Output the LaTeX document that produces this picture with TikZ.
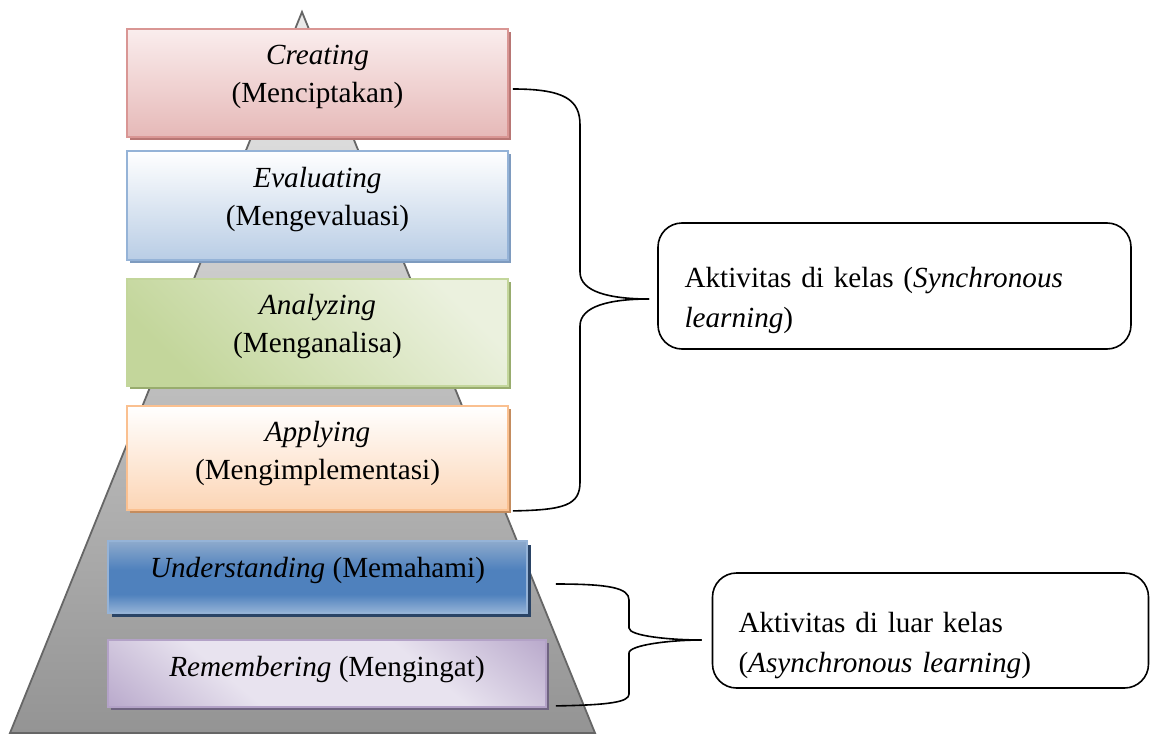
\documentclass[tikz,border=0pt]{standalone}
\usepackage{fontspec}
\setmainfont{Liberation Serif}
\usetikzlibrary{calc,shadows}

\definecolor{pinkEdge}{HTML}{D99694}
\definecolor{pinkLow}{HTML}{E6B9B8}
\definecolor{pinkHigh}{HTML}{FAEDED}
\definecolor{pinkShade}{HTML}{B87674}
\definecolor{blueEdge}{HTML}{95B3D7}
\definecolor{blueLow}{HTML}{B9CDE5}
\definecolor{blueShade}{HTML}{7E9BBF}
\definecolor{greenEdge}{HTML}{C3D69B}
\definecolor{greenLow}{HTML}{EBF1DE}
\definecolor{greenShade}{HTML}{98AC6E}
\definecolor{orangeEdge}{HTML}{FAC090}
\definecolor{orangeLow}{HTML}{FCD5B5}
\definecolor{orangeShade}{HTML}{C48C5E}
\definecolor{navyMid}{HTML}{4F81BD}
\definecolor{navyShade}{HTML}{2A4466}
\definecolor{lilacEdge}{HTML}{B3A2C7}
\definecolor{lilacLow}{HTML}{E8E3EF}
\definecolor{lilacShade}{HTML}{6F6480}

% shadings for the two lower levels
\pgfdeclareverticalshading{navyband}{100bp}{color(0bp)=(blueEdge); color(25bp)=(blueEdge);
  color(38bp)=(navyMid); color(55bp)=(navyMid); color(75bp)=(blueEdge!95!black); color(100bp)=(blueEdge)}
\pgfdeclareverticalshading{lilacband}{100bp}{color(0bp)=(lilacEdge); color(12bp)=(lilacEdge);
  color(36bp)=(lilacLow); color(64bp)=(lilacLow); color(88bp)=(lilacEdge); color(100bp)=(lilacEdge)}

\tikzset{
  level/.style={draw, line width=0.9pt, align=center, inner sep=0pt,
    font=\fontsize{14.6}{19}\selectfont},
  callout/.style={draw, line width=0.8pt, rounded corners=12pt, align=left,
    inner xsep=13pt, inner ysep=0pt, font=\fontsize{14.6}{20}\selectfont},
  brace/.style={line width=0.8pt},
}

\begin{document}
\begin{tikzpicture}[x=0.5pt,y=-0.5pt]
  % Define the frame of the picture
  \useasboundingbox (0,0) rectangle (1150,733);

  % Draw the pyramid behind the levels
  \coordinate (apex) at (302,12);
  \coordinate (baseL) at (10,733);
  \coordinate (baseR) at (595,733);
  \draw[draw=black!60, line width=0.9pt, top color=black!8, bottom color=black!42]
    (apex) -- (baseR) -- (baseL) -- cycle;

  % Draw the levels, top to bottom
  \node[level, minimum width=190.5pt, minimum height=54pt, text depth=9pt,
    draw=pinkEdge, top color=pinkHigh, bottom color=pinkLow,
    drop shadow={shadow xshift=1.5pt, shadow yshift=-1.5pt, fill=pinkShade, opacity=1}]
    (creating) at (317.5,83) {\textit{Creating}\\(Menciptakan)};
  \node[level, minimum width=190.5pt, minimum height=54.5pt, text depth=9pt,
    draw=blueEdge, top color=white, bottom color=blueLow,
    drop shadow={shadow xshift=1.5pt, shadow yshift=-1.5pt, fill=blueShade, opacity=1}]
    (evaluating) at (317.5,205.5) {\textit{Evaluating}\\(Mengevaluasi)};
  \node[level, minimum width=190.5pt, minimum height=53.5pt, text depth=9pt,
    draw=greenEdge, left color=greenEdge, right color=greenLow, shading angle=135,
    drop shadow={shadow xshift=1.5pt, shadow yshift=-1.5pt, fill=greenShade, opacity=1}]
    (analyzing) at (317.5,332.5) {\textit{Analyzing}\\(Menganalisa)};
  \node[level, minimum width=190.5pt, minimum height=52pt, text depth=8pt,
    draw=orangeEdge, top color=white, bottom color=orangeLow,
    drop shadow={shadow xshift=1.5pt, shadow yshift=-1.5pt, fill=orangeShade, opacity=1}]
    (applying) at (317.5,458) {\textit{Applying}\\(Mengimplementasi)};
  \node[level, minimum width=209.5pt, minimum height=36pt, text depth=10pt,
    draw=blueEdge, shading=navyband,
    drop shadow={shadow xshift=2pt, shadow yshift=-2pt, fill=navyShade, opacity=1}]
    (understanding) at (317.5,577) {\textit{Understanding} (Memahami)};
  \node[level, minimum width=219pt, minimum height=33.5pt, text depth=7pt,
    draw=lilacEdge, shading=lilacband, shading angle=-40,
    drop shadow={shadow xshift=1.5pt, shadow yshift=-1.5pt, fill=lilacShade, opacity=1}]
    (remembering) at (327,673.5) {\textit{Remembering} (Mengingat)};

  % Draw the two activity boxes
  \node[callout, minimum width=236.5pt, minimum height=63pt, text width=210pt, text depth=9pt]
    (synchronous) at (894.5,286)
    {Aktivitas di kelas (\textit{Synchronous}\\\textit{learning})};
  \node[callout, minimum width=217.5pt, minimum height=57.5pt, text width=192pt, text depth=8pt]
    (asynchronous) at (930.5,630.5)
    {Aktivitas di luar kelas\\(\textit{Asynchronous learning})};

  % Brace for the upper four levels
  \coordinate (synTop) at ($(creating.east)+(4,6)$);
  \coordinate (synBot) at ($(applying.south east)+(4,0)$);
  \coordinate (synTip) at ($(synchronous.west)+(-8,13)$);
  \draw[brace] (synTop) .. controls (565,89) and (580,100) .. (580,125) -- (580,272)
    .. controls (580,292) and (610,299) .. (synTip);
  \draw[brace] (synTip) .. controls (610,299) and (580,306) .. (580,326) -- (580,482)
    .. controls (580,505) and (565,510) .. (synBot);

  % Brace for the lower two levels
  \coordinate (asyTop) at ($(understanding.east)+(28,7)$);
  \coordinate (asyBot) at ($(remembering.south east)+(9,-2)$);
  \coordinate (asyTip) at ($(asynchronous.west)+(-10,9.5)$);
  \draw[brace] (asyTop) .. controls (610,584) and (629,588) .. (629,600) -- (629,628)
    .. controls (629,636) and (670,640) .. (asyTip);
  \draw[brace] (asyTip) .. controls (670,640) and (629,645) .. (629,653) -- (629,694)
    .. controls (629,702) and (610,705) .. (asyBot);
\end{tikzpicture}
\end{document}
